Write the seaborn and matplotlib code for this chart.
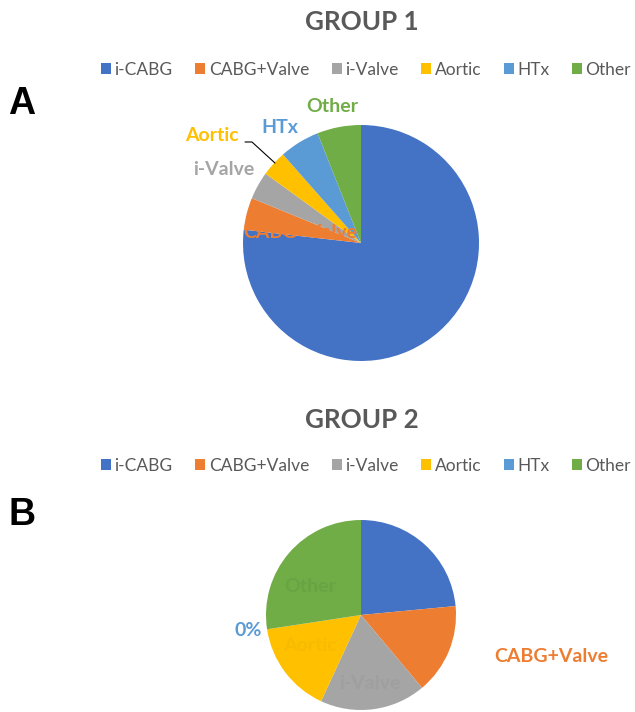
import matplotlib
matplotlib.use("Agg")
import matplotlib.pyplot as plt
from matplotlib.patches import Patch
import seaborn as sns

sns.set_theme(style="white")
plt.rcParams['font.family'] = ['Lato', 'DejaVu Sans']

# donnees
categories = ["i-CABG", "CABG+Valve", "i-Valve", "Aortic", "HTx", "Other"]
group1 = [76.8, 4.4, 3.8, 3.5, 5.5, 6.0]
group2 = [23.5, 15.4, 18.0, 15.7, 0.0, 27.4]
colors = ["#4472C4", "#ED7D31", "#A5A5A5", "#FFC000", "#5B9BD5", "#70AD47"]
grey_txt = "#595959"

W, H = 635, 712
fig = plt.figure(figsize=(W / 100, H / 100), dpi=100)


def pie_axes(cx, cy, r):
    # axes en pixels -> fraction de figure
    ax = fig.add_axes([(cx - r) / W, (H - cy - r) / H, 2 * r / W, 2 * r / H])
    return ax


def draw_pie(ax, vals):
    ax.pie(vals, colors=colors, startangle=90, counterclock=False,
           wedgeprops=dict(linewidth=0))
    ax.set_xlim(-1, 1)
    ax.set_ylim(-1, 1)
    ax.set_aspect('equal')
    ax.axis('off')


def legend_at(y):
    handles = [Patch(facecolor=c, edgecolor='none', label=l) for c, l in zip(colors, categories)]
    fig.legend(handles=handles, loc='center', bbox_to_anchor=(366 / W, 1 - y / H),
               ncol=6, frameon=False, fontsize=12.5, handlelength=0.58, handleheight=0.58,
               handletextpad=0.2, columnspacing=1.3, labelcolor=grey_txt,
               borderpad=0, borderaxespad=0)


# ---- GROUP 1
fig.text(362 / W, 1 - 22 / H, "GROUP 1", ha='center', va='center', fontsize=18.7,
         fontweight='bold', color=grey_txt)
legend_at(70)
fig.text(22 / W, 1 - 104 / H, "A", ha='center', va='center', fontsize=27,
         fontweight='bold', color='black', family=['Liberation Sans', 'DejaVu Sans'])

ax1 = pie_axes(361, 243, 118)
draw_pie(ax1, group1)
lab_kw = dict(ha='center', va='center', fontsize=14, fontweight='bold')
ax1.text(-0.517, 0.093, "CABG+Valve", color=colors[1], **lab_kw)
ax1.text(-1.161, 0.619, "i-Valve", color=colors[2], **lab_kw)
ax1.text(-1.263, 0.915, "Aortic", color=colors[3], **lab_kw)
ax1.text(-0.686, 0.975, "HTx", color=colors[4], **lab_kw)
ax1.text(-0.246, 1.153, "Other", color=colors[5], **lab_kw)
ax1.plot([-0.983, -0.924, -0.729], [0.856, 0.856, 0.678], color='black', lw=0.8, clip_on=False)

# ---- GROUP 2
fig.text(362 / W, 1 - 420 / H, "GROUP 2", ha='center', va='center', fontsize=18.7,
         fontweight='bold', color=grey_txt)
legend_at(466)
fig.text(22 / W, 1 - 515 / H, "B", ha='center', va='center', fontsize=27,
         fontweight='bold', color='black', family=['Liberation Sans', 'DejaVu Sans'])

ax2 = pie_axes(361, 615, 95)
draw_pie(ax2, group2)
# etiquettes presque invisibles (couleur proche du secteur)
ax2.text(-0.537, 0.295, "Other", color="#67a443", **lab_kw)
ax2.text(-0.537, -0.316, "Aortic", color="#f8bb00", **lab_kw)
ax2.text(0.095, -0.726, "i-Valve", color="#9f9f9f", **lab_kw)
ax2.text(-1.189, -0.168, "0%", color=colors[4], **lab_kw)
ax2.text(2.0, -0.442, "CABG+Valve", color=colors[1], **lab_kw)

fig.savefig("out.png", dpi=100)
